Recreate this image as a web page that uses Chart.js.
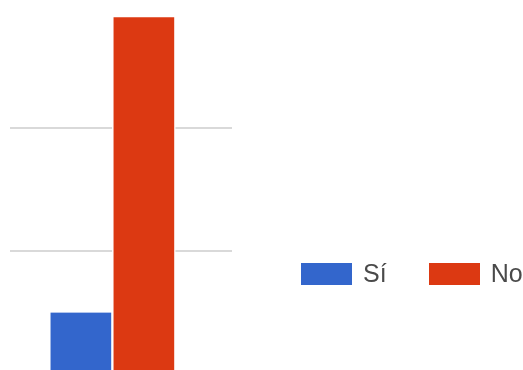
<!DOCTYPE html>
<html>
<head>
<meta charset="utf-8">
<script src="https://cdn.jsdelivr.net/npm/chart.js@4.4.1/dist/chart.umd.min.js"></script>
<style>
    html, body { margin: 0; padding: 0; background: #fff; }
    .wrap { position: relative; width: 523px; height: 370px; overflow: hidden; }
    #votesChart { position: absolute; left: 0; top: 0; }
    .legend { position: absolute; top: 259px; left: 301px; display: flex; align-items: center;
              font-family: 'Liberation Sans', Arial, sans-serif; font-size: 25px; color: #4a4a4a; }
    .legend-item { display: flex; align-items: center; }
    .legend-item + .legend-item { margin-left: 42px; }
    .legend-box { width: 51px; height: 22px; margin-right: 11px; }
</style>
</head>
<body>
<div class="wrap">
    <canvas id="votesChart" width="523" height="380"></canvas>
    <div class="legend" id="legend"></div>
</div>
<script>
    const series = ['Sí', 'No'];
    const values = [5, 29];
    const colors = ['#3366cc', '#dc3912'];
    const yTicks = [0, 10, 20, 30];

    document.addEventListener('DOMContentLoaded', function() {
        const ctx = document.getElementById('votesChart').getContext('2d');
        const chart = new Chart(ctx, {
            type: 'bar',
            data: {
                datasets: series.map((name, i) => ({
                    label: name,
                    data: [{ x: 0, y: values[i] }],
                    backgroundColor: colors[i],
                    borderColor: '#ffffff',
                    borderWidth: { left: 1.5, right: 1.5, top: 0, bottom: 0 },
                    borderSkipped: 'start',
                    barThickness: 63
                }))
            },
            options: {
                responsive: false,
                animation: false,
                layout: {
                    padding: { left: 10, right: 291, top: 5, bottom: 6 }
                },
                plugins: {
                    legend: { display: false },
                    tooltip: { enabled: false }
                },
                scales: {
                    x: {
                        type: 'linear',
                        display: false,
                        min: -0.8,
                        max: 0.985
                    },
                    y: {
                        min: yTicks[0],
                        max: yTicks[yTicks.length - 1],
                        border: { display: false },
                        ticks: { display: false, stepSize: yTicks[1] - yTicks[0] },
                        grid: {
                            drawTicks: false,
                            lineWidth: 2,
                            color: c => c.tick && c.tick.value === yTicks[yTicks.length - 1] ? 'rgba(0,0,0,0)' : '#d9d9d9'
                        }
                    }
                }
            }
        });

        // Horizontal legend built from the datasets
        const legend = document.getElementById('legend');
        chart.data.datasets.forEach(ds => {
            const item = document.createElement('div');
            item.className = 'legend-item';
            const box = document.createElement('span');
            box.className = 'legend-box';
            box.style.background = ds.backgroundColor;
            const text = document.createElement('span');
            text.textContent = ds.label;
            item.appendChild(box);
            item.appendChild(text);
            legend.appendChild(item);
        });
    });
</script>
</body>
</html>
